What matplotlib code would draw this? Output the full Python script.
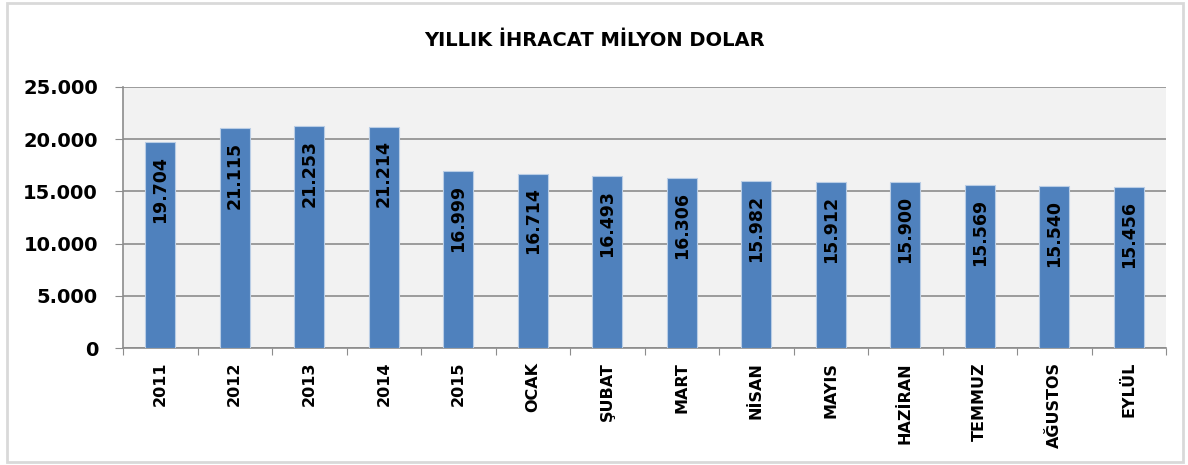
import matplotlib.pyplot as plt
from matplotlib.patches import Rectangle

kategoriler = ['2011', '2012', '2013', '2014', '2015', 'OCAK', 'ŞUBAT', 'MART',
               'NİSAN', 'MAYIS', 'HAZİRAN', 'TEMMUZ', 'AĞUSTOS', 'EYLÜL']
ihracat = [19704, 21115, 21253, 21214, 16999, 16714, 16493, 16306,
           15982, 15912, 15900, 15569, 15540, 15456]
y_ticks = [0, 5000, 10000, 15000, 20000, 25000]


def fmt(v):
    return f'{v:,}'.replace(',', '.')


plt.rcParams['font.family'] = ['DejaVu Sans']

fig = plt.figure(figsize=(11.88, 4.65), dpi=100)
fig.patches.append(Rectangle((7 / 1188, 3 / 465), 1176 / 1188, 459 / 465,
                             transform=fig.transFigure, fill=False,
                             edgecolor='#D9D9D9', linewidth=2))
ax = fig.add_axes([123 / 1188, 1 - 348 / 465, (1166 - 123) / 1188, (348 - 87) / 465])
ax.set_facecolor('#F2F2F2')

x = range(len(kategoriler))
ax.bar(x, ihracat, width=0.4, color='#4F81BD', edgecolor='#B9CDE5', linewidth=0.8, zorder=3)

for i, v in enumerate(ihracat):
    ax.annotate(fmt(v), (i, v), xytext=(0, -10), textcoords='offset points',
                rotation=90, ha='center', va='top', fontsize=12.5,
                fontweight='bold', color='black', zorder=4)

ax.set_xlim(-0.5, len(kategoriler) - 0.5)
ax.set_ylim(0, 25000)
ax.set_yticks(y_ticks)
ax.set_yticklabels([fmt(t) for t in y_ticks], fontsize=14, fontweight='bold')
ax.yaxis.grid(True, color='#8C8C8C', linewidth=1.2, zorder=0)
ax.set_axisbelow(True)

ax.set_xticks([i - 0.5 for i in range(len(kategoriler) + 1)])
ax.set_xticklabels([])
ax.set_xticks(list(x), minor=True)
ax.set_xticklabels(kategoriler, minor=True, rotation=90, fontsize=11.5,
                   fontweight='bold', va='top')
ax.tick_params(axis='x', which='minor', length=0, pad=10)
ax.tick_params(axis='x', which='major', length=5, color='#8C8C8C', direction='out')
ax.tick_params(axis='y', length=6, color='#8C8C8C', pad=12)

for s in ['top', 'right']:
    ax.spines[s].set_visible(False)
for s in ['left', 'bottom']:
    ax.spines[s].set_color('#8C8C8C')
    ax.spines[s].set_linewidth(1.2)

fig.text(0.5, 1 - 40 / 465, 'YILLIK İHRACAT MİLYON DOLAR', ha='center', va='center',
         fontsize=14, fontweight='bold')

fig.savefig('out.png', dpi=100)
